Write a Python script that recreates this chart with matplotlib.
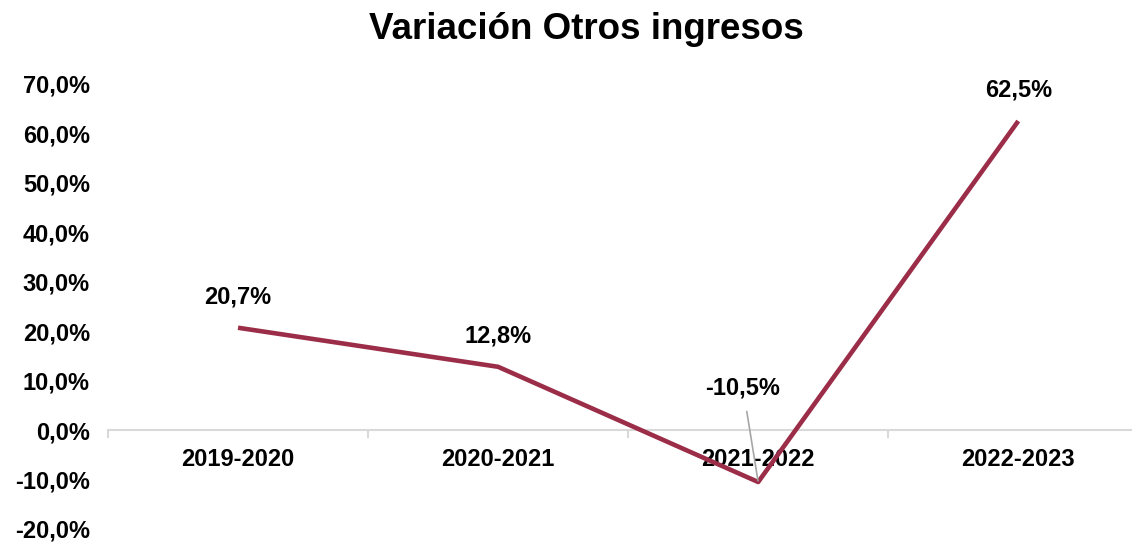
import matplotlib
matplotlib.use("Agg")
import matplotlib.pyplot as plt
from matplotlib.ticker import FuncFormatter, FixedLocator, NullFormatter

plt.rcParams['font.family'] = ['Liberation Sans', 'DejaVu Sans']
plt.rcParams['font.weight'] = 'bold'

# datos
periodos = ["2019-2020", "2020-2021", "2021-2022", "2022-2023"]
variacion = [20.7, 12.8, -10.5, 62.5]
etiquetas = ["20,7%", "12,8%", "-10,5%", "62,5%"]

color_linea = "#9B2D48"
gris = "#D9D9D9"

fig = plt.figure(figsize=(11.32, 5.42), dpi=100)
ax = fig.add_axes([0.0954, 0.024, 0.919, 0.8211])

x = list(range(len(periodos)))
ax.plot(x, variacion, color=color_linea, linewidth=3.3, solid_capstyle="butt", zorder=3)

ax.set_xlim(-0.5, 3.5)
ax.set_ylim(-20, 70)

# eje y: solo etiquetas
ax.set_yticks(range(-20, 71, 10))
ax.yaxis.set_major_formatter(FuncFormatter(lambda v, p: f"{v:.1f}%".replace(".", ",")))
ax.tick_params(axis="y", length=0, labelsize=17, pad=13)

# eje x en cero con marcas entre categorias
for s in ["top", "right", "left"]:
    ax.spines[s].set_visible(False)
ax.spines["bottom"].set_position(("data", 0))
ax.spines["bottom"].set_color(gris)
ax.spines["bottom"].set_linewidth(1.5)
ax.xaxis.set_major_locator(FixedLocator([-0.5, 0.5, 1.5, 2.5, 3.5]))
ax.xaxis.set_major_formatter(NullFormatter())
ax.xaxis.set_minor_locator(FixedLocator(x))
ax.set_xticklabels(periodos, minor=True)
ax.tick_params(axis="x", which="major", length=6, width=1.5, color=gris, direction="out")
ax.tick_params(axis="x", which="minor", length=0, labelsize=17, pad=13)
for t in ax.get_xticklabels(minor=True):
    t.set_fontweight("bold")
for t in ax.get_yticklabels():
    t.set_fontweight("bold")

# etiquetas de datos
for i, (v, lab) in enumerate(zip(variacion, etiquetas)):
    if i == 2:
        ax.annotate(lab, xy=(i, v), xytext=(-11, 68), textcoords="offset points",
                    ha="center", va="center", fontsize=17, fontweight="bold",
                    arrowprops=dict(arrowstyle="-", color="#A6A6A6", lw=1.2,
                                    shrinkA=7, shrinkB=1), zorder=4)
    else:
        ax.annotate(lab, xy=(i, v), xytext=(0, 22), textcoords="offset points",
                    ha="center", va="center", fontsize=17, fontweight="bold")

fig.suptitle("Variación Otros ingresos", fontsize=26.5, fontweight="bold",
             x=0.5177, y=0.978)

fig.savefig("out.png", dpi=100)
